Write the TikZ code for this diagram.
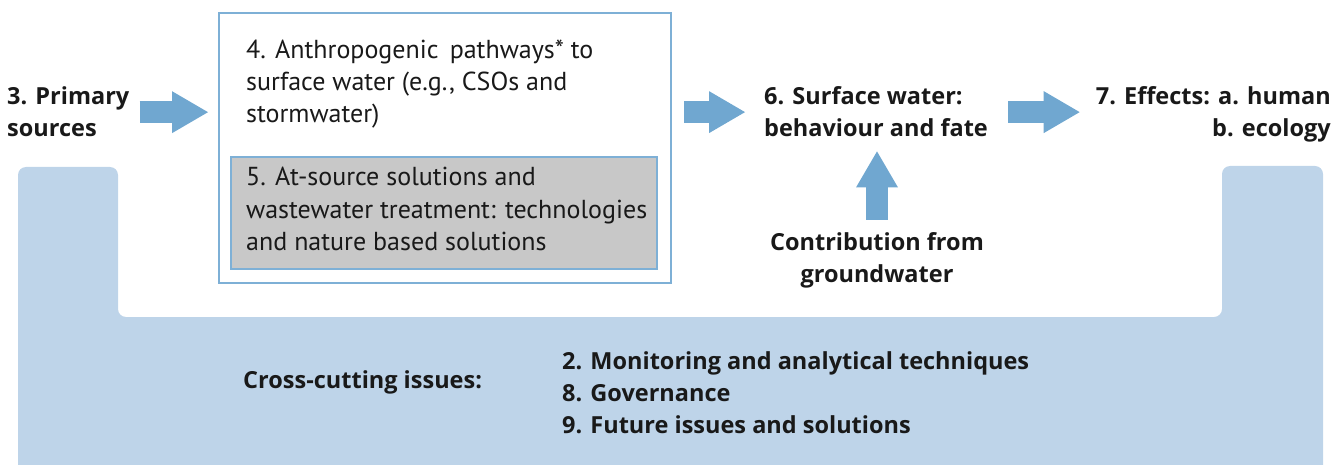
\documentclass[tikz,border=0pt]{standalone}
\usepackage{fontspec}
\setmainfont{PT Sans}
\newfontfamily\headfont{Open Sans}
\usetikzlibrary{arrows.meta}

\definecolor{bandblue}{RGB}{190,212,233}
\definecolor{flowblue}{RGB}{112,167,208}
\definecolor{lineblue}{RGB}{126,176,214}
\definecolor{boxgray}{RGB}{200,200,200}
\definecolor{ink}{RGB}{25,25,25}

\begin{document}
\begin{tikzpicture}[x=1pt,y=-1pt,ink,
  label node/.style={font=\headfont\bfseries\fontsize{23.5}{32}\selectfont,inner sep=0pt,align=left},
  plain node/.style={font=\fontsize{26}{32}\selectfont,inner sep=0pt,align=left},
  box node/.style={draw=lineblue,line width=2pt,inner sep=0pt,anchor=north west},
  flow/.style={color=flowblue,line width=22pt,-{Triangle[length=36pt,width=42pt,line width=0pt]}}]

 \useasboundingbox (0,0) rectangle (1341,465);

 % cross-cutting band (U shape behind everything)
 \fill[bandblue,rounded corners=8pt] (18,167) -- (118,167) -- (118,317) -- (1222,317)
   -- (1222,166) -- (1323,166) -- (1323,480) -- (18,480) -- cycle;

 % pathways box with the treatment box inside it
 \node[box node,minimum width=452,minimum height=270] (4) at (218,12) {};
 \node[plain node,anchor=base west] (4t) at (246,123)
   {4. Anthropogenic\, pathways* to\\surface water (e.g., CSOs and\\stormwater)};
 \node[box node,fill=boxgray,minimum width=426,minimum height=112] (5) at (230,156) {};
 \node[plain node,anchor=base west] (5t) at (246,250)
   {5. At-source solutions and\\wastewater treatment: technologies\\and nature based solutions};

 \node[label node,anchor=base west] (3) at (7,137) {3. Primary\\sources};
 \node[label node,anchor=base west] (6) at (764,137) {6. Surface water:\\behaviour and fate};
 \node[label node,align=right,anchor=base east] (7) at (1331,137) {7. Effects: a. human\\b. ecology};
 \node[label node,align=center,anchor=base] (gw) at (877,282) {Contribution from\\groundwater};

 \node[label node,anchor=base west] (cc) at (243,388) {Cross-cutting issues:};
 \node[label node,anchor=base west] (list) at (562,433)
   {2. Monitoring and analytical techniques\\8. Governance\\9. Future issues and solutions};

 \path[flow]
    (3.east)           edge [shorten <=10pt,shorten >=10pt] (3.east -| 4.west)
    (6.west -| 4.east) edge [shorten <=12pt,shorten >=19pt] (6.west)
    (6.east)           edge [shorten <=20pt,shorten >=16pt] (6.east -| 7.west)
    (gw.north)         edge [shorten <=12pt,shorten >=14pt] (gw.north |- 6.south);

\end{tikzpicture}
\end{document}
